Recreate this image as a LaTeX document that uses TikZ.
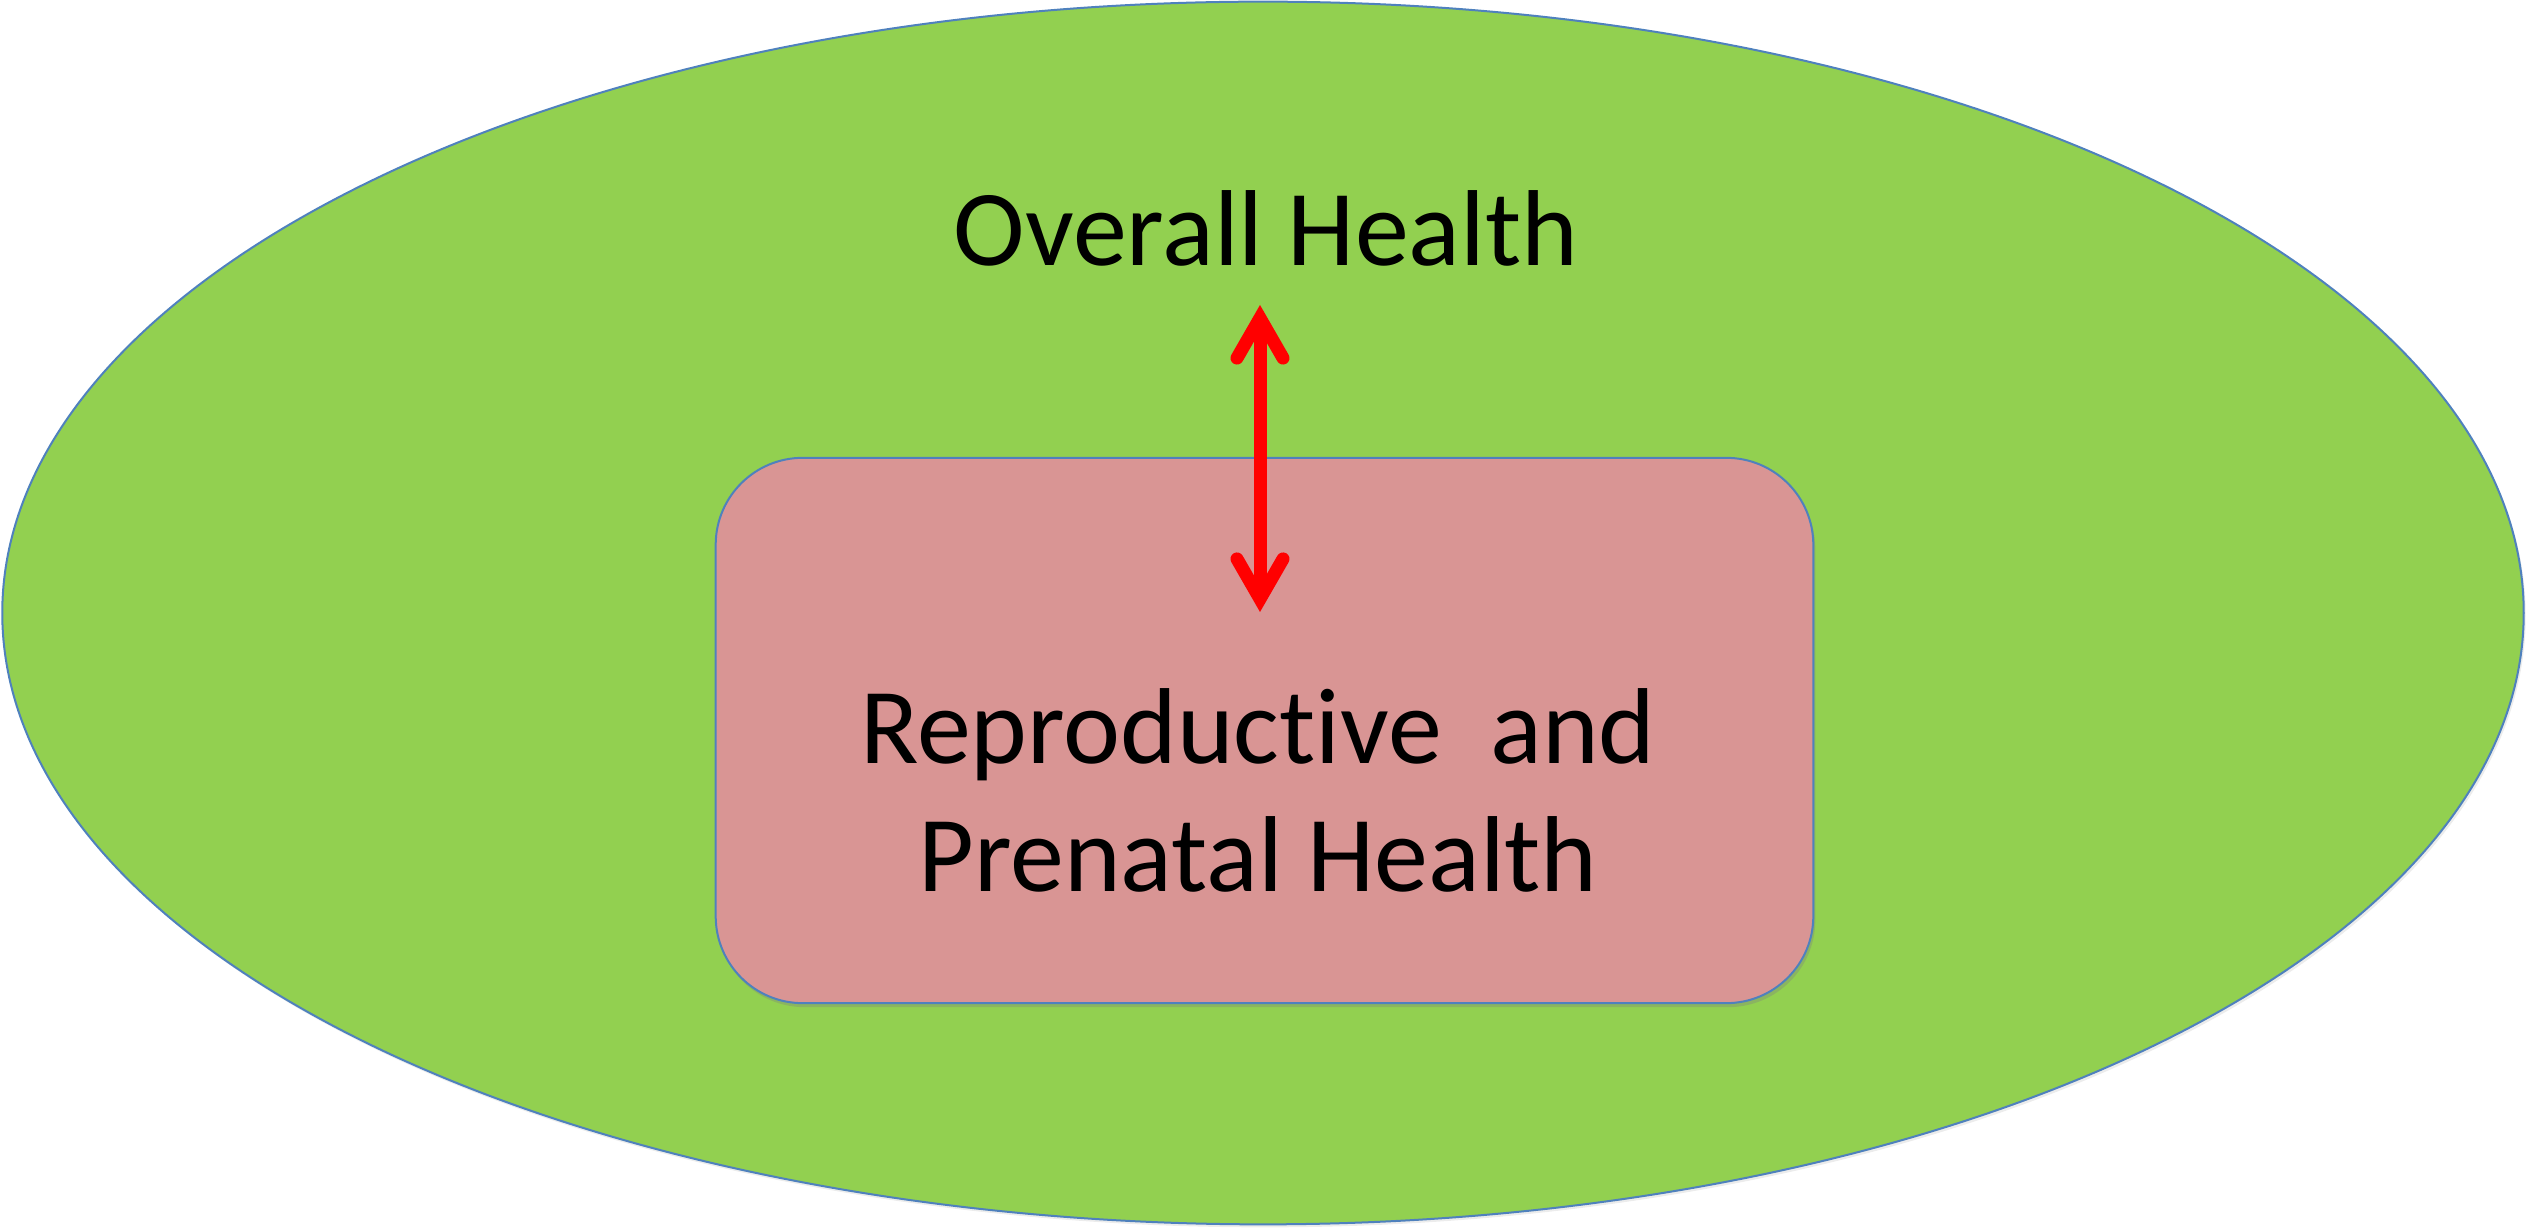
\documentclass[tikz,border=0pt]{standalone}
\usepackage{fontspec}
\setmainfont[Ligatures=NoCommon]{Carlito}
\usetikzlibrary{arrows.meta,shapes.geometric,shadows}
\definecolor{healthGreen}{HTML}{92D050}
\definecolor{reproPink}{HTML}{D99594}
\definecolor{edgeBlue}{HTML}{4F81BD}
\definecolor{linkRed}{HTML}{FF0000}

\begin{document}
\begin{tikzpicture}[x=0.01cm, y=-0.01cm,
    >={Straight Barb[length=0.4cm, width=0.46cm, line cap=round, line join=miter]},
    bigtext/.style={font=\fontsize{30.7}{36.4}\selectfont, text=black, inner sep=0pt}]
            \useasboundingbox (0,0) rectangle (2526,1228);

            % Outer ellipse
            \node[ellipse, draw=edgeBlue, line width=0.02cm, fill=healthGreen,
                  minimum width=25.2cm, minimum height=12.22cm, inner sep=0pt,
                  drop shadow={shadow xshift=0.02cm, shadow yshift=-0.03cm, opacity=0.15}]
                (overall) at (1263,613) {};

            % Inner box
            \node[rectangle, rounded corners=0.87cm, draw=edgeBlue, line width=0.02cm, fill=reproPink,
                  minimum width=10.97cm, minimum height=5.45cm, inner sep=0pt,
                  drop shadow={shadow xshift=0.02cm, shadow yshift=-0.04cm, opacity=0.35}]
                (repro) at (1264.5,730.5) {};

            % Labels
            \node[bigtext, anchor=base] (overallText) at (1266,266) {Overall Health};
            \node[bigtext, anchor=base, align=center] (reproText) at (1258,892)
                {Reproductive\hspace{0.45em}and\\Prenatal Health};

            % Two-way link
            \coordinate (upTip) at (1260,305);
            \coordinate (downTip) at (1260,612);
            \draw[<->, linkRed, line width=0.13cm] (upTip) -- (downTip);
        \end{tikzpicture}
\end{document}
